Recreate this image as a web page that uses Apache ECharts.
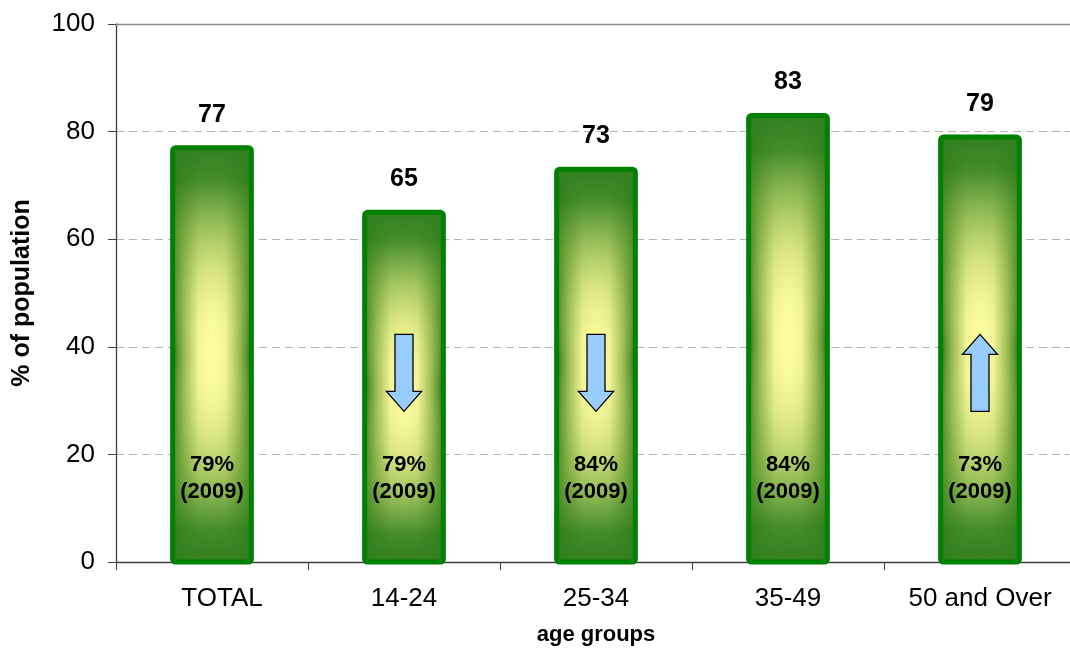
<!DOCTYPE html>
<html>
<head>
<meta charset="utf-8">
<script src="https://cdn.jsdelivr.net/npm/echarts@6/dist/echarts.min.js"></script>
<style>
  html, body { margin: 0; padding: 0; background: #fff; }
  #chart { width: 1070px; height: 652px; }
</style>
</head>
<body>
<div id="chart"></div>
<script>
// Age groups and the share of population in each
const categories = ['TOTAL', '14-24', '25-34', '35-49', '50 and Over'];
const values = [77, 65, 73, 83, 79];
// Figures from 2009, printed inside each bar
const values2009 = [79, 79, 84, 84, 73];
// Change direction shown by an arrow ('' = no arrow)
const trends = ['', 'down', 'down', '', 'up'];
const yTicks = [0, 20, 40, 60, 80, 100];

const FONT = '"Liberation Sans", Arial, sans-serif';
const GREEN = '#008000';

const chart = echarts.init(document.getElementById('chart'), null, { renderer: 'canvas' });

function renderBar(params, api) {
  const i = api.value(0);
  const v = api.value(1);
  const top = api.coord([i, v]);
  const base = api.coord([i, 0]);
  const w = api.size([1, 0])[0] * 0.41;
  const x = top[0] - w / 2;
  const h = base[1] - top[1];
  const children = [];

  // body: green edges fading to pale yellow in the middle (horizontal)
  children.push({
    type: 'rect',
    shape: { x: x, y: top[1], width: w, height: h, r: 3 },
    style: {
      fill: new echarts.graphic.LinearGradient(0, 0, 1, 0, [
        { offset: 0, color: '#2a7a1c' },
        { offset: 0.16, color: '#9dbd52' },
        { offset: 0.33, color: '#f3f69a' },
        { offset: 0.5, color: '#ffff9c' },
        { offset: 0.67, color: '#f3f69a' },
        { offset: 0.84, color: '#9dbd52' },
        { offset: 1, color: '#2a7a1c' }
      ]),
      stroke: null
    }
  });
  // vertical shading: darker at top and bottom
  children.push({
    type: 'rect',
    shape: { x: x, y: top[1], width: w, height: h },
    style: {
      fill: new echarts.graphic.LinearGradient(0, 0, 0, 1, [
        { offset: 0, color: 'rgba(50,128,32,1)' },
        { offset: 0.08, color: 'rgba(50,128,32,0.9)' },
        { offset: 0.3, color: 'rgba(130,175,65,0.3)' },
        { offset: 0.5, color: 'rgba(255,255,160,0)' },
        { offset: 0.7, color: 'rgba(130,175,65,0.3)' },
        { offset: 0.92, color: 'rgba(50,128,32,0.9)' },
        { offset: 1, color: 'rgba(50,128,32,1)' }
      ])
    }
  });
  // border
  children.push({
    type: 'rect',
    shape: { x: x, y: top[1], width: w, height: h, r: 3 },
    style: { fill: null, stroke: GREEN, lineWidth: 5 }
  });
  // value above the bar
  children.push({
    type: 'text',
    style: {
      text: String(v),
      x: top[0], y: top[1] - 33,
      align: 'center', verticalAlign: 'middle',
      font: 'bold 25px ' + FONT, fill: '#000'
    }
  });
  // 2009 figure inside the bar
  const lbl = api.coord([i, 15.5]);
  children.push({
    type: 'text',
    style: {
      text: values2009[i] + '%\n(2009)',
      x: lbl[0], y: lbl[1],
      align: 'center', verticalAlign: 'middle',
      font: 'bold 22px ' + FONT, fill: '#000', lineHeight: 27
    }
  });
  // trend arrow
  const dir = trends[i];
  if (dir) {
    const hi = api.coord([i, 42.3]);
    const lo = api.coord([i, 28]);
    const cx = top[0];
    const sw = 9, hw = 17.5, hh = 20;
    const yt = hi[1], yb = lo[1];
    let pts;
    if (dir === 'down') {
      pts = [[cx - sw, yt], [cx + sw, yt], [cx + sw, yb - hh], [cx + hw, yb - hh],
             [cx, yb], [cx - hw, yb - hh], [cx - sw, yb - hh]];
    } else {
      pts = [[cx - sw, yb], [cx + sw, yb], [cx + sw, yt + hh], [cx + hw, yt + hh],
             [cx, yt], [cx - hw, yt + hh], [cx - sw, yt + hh]];
    }
    children.push({
      type: 'polygon',
      shape: { points: pts },
      style: { fill: '#99ccff', stroke: '#000', lineWidth: 1.3 }
    });
  }
  return { type: 'group', children: children };
}

chart.setOption({
  animation: false,
  backgroundColor: '#fff',
  grid: {
    left: 116, top: 24, width: 960, bottom: 90,
    containLabel: false,
    outerBoundsMode: 'none'
  },
  xAxis: [{
    type: 'category',
    data: categories,
    boundaryGap: true,
    name: 'age groups',
    nameLocation: 'middle',
    nameGap: 62,
    nameTextStyle: { fontFamily: FONT, fontSize: 22, fontWeight: 'bold', color: '#000' },
    axisLine: { lineStyle: { color: '#404040', width: 1.3 } },
    axisTick: { show: true, length: 8, alignWithLabel: false, lineStyle: { color: '#404040' } },
    axisLabel: {
      fontFamily: FONT, fontSize: 26, color: '#000', margin: 24,
      formatter: function (v, idx) { return idx === 0 ? '{first|' + v + '}' : v; },
      rich: { first: { fontFamily: FONT, fontSize: 26, color: '#000', padding: [0, 0, 0, 20] } }
    },
    splitLine: { show: false }
  }, {
    type: 'category',
    data: categories,
    position: 'top',
    axisLine: { lineStyle: { color: '#888', width: 1.3 } },
    axisTick: { show: false },
    axisLabel: { show: false }
  }],
  yAxis: {
    type: 'value',
    min: 0, max: 100, interval: 20,
    name: '% of population',
    nameLocation: 'middle',
    nameGap: 81,
    nameTextStyle: { fontFamily: FONT, fontSize: 25, fontWeight: 'bold', color: '#000' },
    axisLine: { show: true, lineStyle: { color: '#404040', width: 1.3 } },
    axisTick: { show: true, length: 8, lineStyle: { color: '#404040' } },
    axisLabel: {
      fontFamily: FONT, fontSize: 26, color: '#000', margin: 21,
      formatter: function (v) { return yTicks.indexOf(v) >= 0 ? String(v) : ''; }
    },
    splitLine: { show: true, lineStyle: { color: '#b4b4b4', type: [8, 5], width: 1 } }
  },
  series: [{
    type: 'custom',
    renderItem: renderBar,
    encode: { x: 0, y: 1 },
    data: values.map(function (v, i) { return [i, v]; }),
    clip: false,
    z: 5
  }]
});
</script>
</body>
</html>
